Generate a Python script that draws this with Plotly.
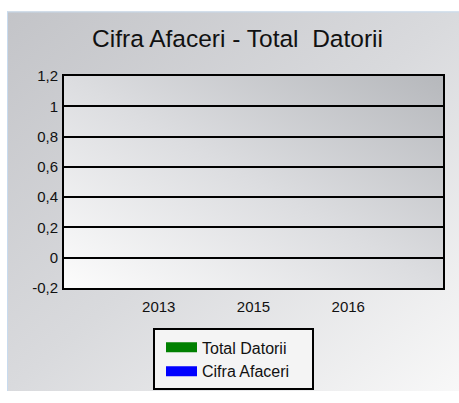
import base64
import plotly.graph_objects as go

# ---- data ----
years = ["2013", "2015", "2016"]
total_datorii = [0, 0, 0]
cifra_afaceri = [0, 0, 0]
series_names = ["Total Datorii", "Cifra Afaceri"]
series_colors = ["#008000", "#0000FF"]
y_tickvals = [-0.2, 0, 0.2, 0.4, 0.6, 0.8, 1, 1.2]
y_ticktext = ["-0,2", "0", "0,2", "0,4", "0,6", "0,8", "1", "1,2"]
title_text = "Cifra Afaceri - Total\u00a0 Datorii"

# ---- geometry (page px) ----
W, H = 459, 403
L, R, T, B = 64, 443, 76, 296  # plot area
CX, CY = 7, 9                  # chart frame origin

svg = f'''<svg xmlns="http://www.w3.org/2000/svg" width="{W}" height="{H}" viewBox="0 0 {W} {H}" preserveAspectRatio="none">
<defs>
<linearGradient id="outer" x1="0" y1="0" x2="1" y2="1">
<stop offset="0" stop-color="#c3c4c8"/>
<stop offset="0.5" stop-color="#d9dadd"/>
<stop offset="1" stop-color="#f8f8f8"/>
</linearGradient>
<linearGradient id="inner" x1="0" y1="1" x2="1" y2="0">
<stop offset="0" stop-color="#fcfcfc"/>
<stop offset="0.5" stop-color="#dcdde0"/>
<stop offset="1" stop-color="#b6b8bc"/>
</linearGradient>
</defs>
<rect x="0" y="0" width="{W}" height="{H}" fill="#ffffff"/>
<rect x="{CX}" y="{CY}" width="{W-CX}" height="{H-CY}" fill="url(#outer)"/>
<rect x="{CX}" y="{CY}" width="{W-CX}" height="1" fill="#c8dbef"/>
<rect x="{CX}" y="{CY}" width="1" height="{H-CY}" fill="#c8dbef"/>
<rect x="{L}" y="{T}" width="{R-L}" height="{B-T}" fill="url(#inner)"/>
</svg>'''
src = "data:image/svg+xml;base64," + base64.b64encode(svg.encode()).decode()

pw, ph = R - L, B - T
pad = "\u00a0" * 4

fig = go.Figure()
fig.add_trace(go.Bar(x=years, y=total_datorii, name=series_names[0],
                     marker=dict(color=series_colors[0], line=dict(width=0)),
                     showlegend=False))
fig.add_trace(go.Bar(x=years, y=cifra_afaceri, name=series_names[1],
                     marker=dict(color=series_colors[1], line=dict(width=0)),
                     showlegend=False))
# legend entries
for nm, col in zip(series_names, series_colors):
    fig.add_trace(go.Scatter(x=[None], y=[None], mode="lines", name=nm + pad,
                             line=dict(color=col, width=10)))

fig.update_layout(
    width=W, height=H,
    margin=dict(l=L, r=W - R, t=T, b=H - B, pad=0),
    paper_bgcolor="#ffffff",
    plot_bgcolor="rgba(0,0,0,0)",
    font=dict(family="Liberation Sans, Arial, sans-serif", size=15, color="#111111"),
    title=dict(text=title_text, x=237.5 / W, xref="container", xanchor="center",
               y=1 - 38 / H, yref="container", yanchor="middle",
               font=dict(size=24.5, color="#111111")),
    images=[dict(source=src, xref="paper", yref="paper",
                 x=-L / pw, y=B / ph, sizex=W / pw, sizey=H / ph,
                 xanchor="left", yanchor="top", sizing="stretch", layer="below")],
    showlegend=True,
    legend=dict(x=(153 - L) / pw, y=(B - 338) / ph, xanchor="left", yanchor="top",
                bgcolor="#f4f4f4", bordercolor="#000000", borderwidth=2,
                font=dict(size=16, color="#111111"), traceorder="normal",
                itemwidth=31, indentation=6),
    barmode="group",
)
fig.update_xaxes(type="category", categoryorder="array", categoryarray=years,
                 range=[-1, 3], showgrid=False, zeroline=False,
                 showline=True, linecolor="#000000", linewidth=2, mirror=True,
                 ticks="outside", ticklen=4, tickcolor="rgba(0,0,0,0)",
                 tickfont=dict(size=15), fixedrange=True)
fig.update_yaxes(range=[-0.2, 1.2], tickvals=y_tickvals, ticktext=y_ticktext,
                 showgrid=True, gridcolor="#000000", gridwidth=1.6, zeroline=False,
                 showline=True, linecolor="#000000", linewidth=2, mirror=True,
                 ticks="outside", ticklen=1, tickcolor="rgba(0,0,0,0)",
                 tickfont=dict(size=15), fixedrange=True)

fig.write_html(
    "out.html",
    config={"displayModeBar": False},
    post_script="document.documentElement.style.margin='0';"
                "document.body.style.margin='0';"
                "document.body.style.overflow='hidden';",
)
